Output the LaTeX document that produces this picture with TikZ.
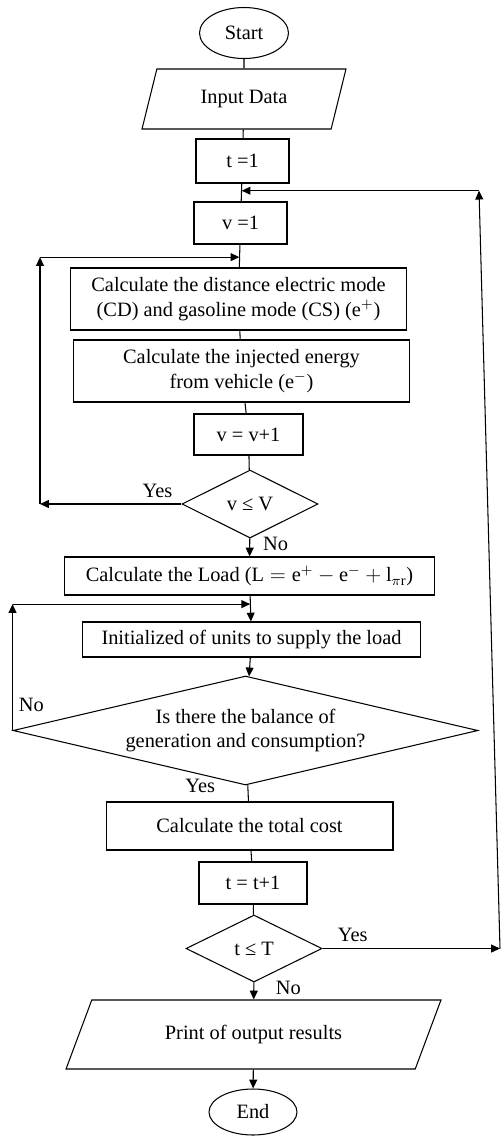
\documentclass[tikz,border=0pt]{standalone}
\usepackage{fontspec}
\setmainfont{Liberation Serif}
\usetikzlibrary{shapes.geometric,arrows.meta,calc}

\begin{document}
\begin{tikzpicture}[x=0.02cm, y=-0.02cm,
  every node/.style={font=\fontsize{11.6}{14.2}\selectfont},
  box/.style={draw, rectangle, line width=0.6pt, inner sep=0pt, align=center},
  term/.style={draw, ellipse, line width=0.6pt, inner sep=0pt},
  io/.style={draw, trapezium, trapezium stretches body, line width=0.6pt,
    inner sep=0pt, align=center},
  cond/.style={draw, diamond, line width=0.6pt, inner sep=0pt, align=center},
  line/.style={line width=0.6pt},
  arr/.style={line width=0.6pt, -{Stealth[inset=0pt, length=5pt, width=4.5pt]}}]

  \useasboundingbox (0,0) rectangle (504,1137);

  %% ---- Start and input ----
  \node[term, minimum width=1.78cm, minimum height=1.02cm] (start) at (244,33) {Start};
  \node[io, trapezium left angle=50, trapezium right angle=130,
    minimum width=4.08cm, minimum height=1.2cm] (input) at (244,99) {Input Data};
  \node[box, minimum width=1.86cm, minimum height=0.88cm] (t1) at (242.5,161) {t =1};
  \node[box, minimum width=1.86cm, minimum height=0.84cm] (v1) at (240.5,223) {v =1};

  %% ---- Vehicle loop ----
  \node[box, minimum width=6.74cm, minimum height=1.24cm] (dist) at (238.5,299)
    {Calculate the distance electric mode\\(CD) and gasoline mode (CS) (e$^{+}$)};
  \node[box, minimum width=6.74cm, minimum height=1.24cm] (inj) at (241.5,371)
    {Calculate the injected energy\\from vehicle (e$^{-}$)};
  \node[box, minimum width=2.18cm, minimum height=0.82cm] (vinc) at (248.5,434.5) {v = v+1};
  \node[cond, aspect=2, minimum width=2.72cm, minimum height=1.36cm] (dv) at (250,504) {v ≤ V};

  %% ---- Load and balance ----
  \node[box, minimum width=7.42cm, minimum height=0.76cm] (load) at (249.5,576)
    {Calculate the Load ($\mathrm{L} = \mathrm{e}^{+} - \mathrm{e}^{-} + \mathrm{l}_{\pi\mathrm{r}}$)};
  \node[box, minimum width=6.78cm, minimum height=0.70cm] (init) at (251.5,639.5)
    {Initialized of units to supply the load};
  \node[cond, aspect=4.27, minimum width=9.3cm, minimum height=2.18cm] (bal) at (245.5,730.5)
    {Is there the balance of\\generation and consumption?};

  %% ---- Cost and time step ----
  \node[box, minimum width=5.74cm, minimum height=0.96cm] (cost) at (249.5,826)
    {Calculate the total cost};
  \node[box, minimum width=2.16cm, minimum height=0.84cm] (tinc) at (253,883) {t = t+1};
  \node[cond, aspect=2, minimum width=2.72cm, minimum height=1.34cm] (dt) at (254,948.5) {t ≤ T};
  \node[io, trapezium left angle=36, trapezium right angle=144,
    minimum width=7.5cm, minimum height=1.38cm] (print) at (253.5,1034.5)
    {Print of output results};
  \node[term, minimum width=1.76cm, minimum height=0.92cm] (end) at (253,1112) {End};

  %% ---- Main flow ----
  \draw[line] (start) -- (input);
  \draw[line] (input) -- (t1);
  \draw[line] (t1) -- (v1);
  \draw[line] (v1) -- (dist);
  \draw[line] (dist) -- (inj);
  \draw[line] (inj) -- (vinc);
  \draw[line] (vinc) -- (dv);
  \draw[arr] (dv) -- node[right=4pt, pos=0.3] {No} (load);
  \draw[arr] (load) -- (init);
  \draw[arr] (init) -- (bal);
  \draw[line] (bal) -- node[left=15pt, pos=0.05] {Yes} (cost);
  \draw[line] (cost) -- (tinc);
  \draw[line] (tinc) -- (dt);
  \draw[arr] (dt) -- node[right=9pt, pos=0.33] {No} (print);
  \draw[arr] (print) -- (end);

  %% ---- Junctions ----
  \coordinate (jt) at ($(t1.south)!0.4!(v1.north)$);
  \coordinate (jv) at ($(v1.south)!0.55!(dist.north)$);
  \coordinate (jl) at ($(load.south)!0.33!(init.north)$);

  %% ---- Loop over vehicles ----
  \coordinate (lb) at (40,0 |- dv.west);
  \coordinate (lt) at (40,0 |- jv);
  \draw[arr] (dv.west) -- node[above, pos=0.17] {Yes} (lb);
  \draw[arr] (lb) -- (lt);
  \draw[arr] (lt) -- (jv);

  %% ---- Balance loop ----
  \coordinate (lt2) at (bal.west |- jl);
  \draw[arr] (bal.west) -- node[above right, pos=0.1] {No} (lt2);
  \draw[arr] (lt2) -- (jl);

  %% ---- Loop over time ----
  \coordinate (rb) at (500,0 |- dt.east);
  \coordinate (rt) at (479,0 |- jt);
  \draw[arr] (dt.east) -- node[above, pos=0.17] {Yes} (rb);
  \draw[arr] (rb) -- (rt);
  \draw[arr] (rt) -- (jt);

\end{tikzpicture}
\end{document}
